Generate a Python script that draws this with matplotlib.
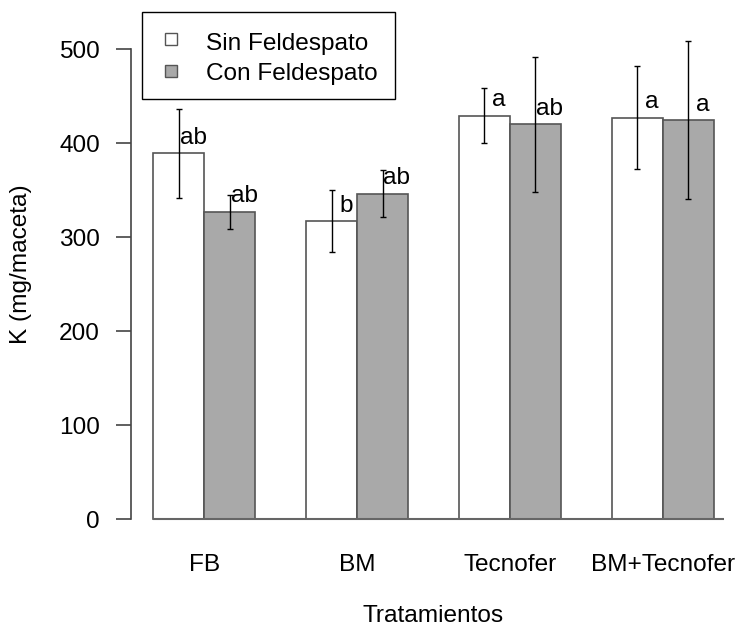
import numpy as np
import matplotlib
matplotlib.use("Agg")
import matplotlib.pyplot as plt
from matplotlib.patches import Rectangle

plt.rcParams['font.family'] = ['Liberation Sans', 'DejaVu Sans']

tratamientos = ["FB", "BM", "Tecnofer", "BM+Tecnofer"]
series = ["Sin Feldespato", "Con Feldespato"]
k_sin = [389, 317, 429, 427]
k_con = [327, 346, 420, 424]
sd_sin = [47, 33, 29, 55]
sd_con = [18, 25, 72, 84]
letras_sin = ["ab", "b", "a", "a"]
letras_con = ["ab", "ab", "ab", "a"]
yticks = [0, 100, 200, 300, 400, 500]

FS = 17.6
W, H = 743, 635
fig = plt.figure(figsize=(W / 100, H / 100), dpi=100)
ax = fig.add_axes([131 / W, (H - 537.8) / H, (736 - 131) / W, (537.8 - 10) / H])


def fx(x):
    return x / W


def fy(y):
    return 1 - y / H


# barplot layout: two bars per group, one bar width gap between groups
grupos = np.arange(len(tratamientos)) * 3
x_sin = grupos + 1.5
x_con = grupos + 2.5

edge = "#555555"
gris = "#a9a9a9"
ax.bar(x_sin, k_sin, width=1, color="white", edgecolor=edge, linewidth=1.2)
ax.bar(x_con, k_con, width=1, color=gris, edgecolor=edge, linewidth=1.2)

err_kw = dict(fmt="none", ecolor="black", elinewidth=1, capsize=2, capthick=1)
ax.errorbar(x_sin, k_sin, yerr=sd_sin, clip_on=False, **err_kw)
ax.errorbar(x_con, k_con, yerr=sd_con, clip_on=False, **err_kw)

for xs, ys, ls in [(x_sin, k_sin, letras_sin), (x_con, k_con, letras_con)]:
    for xi, yi, li in zip(xs, ys, ls):
        ax.text(xi + 0.28, yi + 10, li, ha="center", va="baseline", fontsize=FS)

# line along the base of the bars
ax.plot([1, 12.2], [0, 0], color="#666666", linewidth=1.5, solid_capstyle="butt")

ax.set_xlim(0.56, 12.44)
ax.set_ylim(-20, 541.5)

for s in ["top", "right", "bottom"]:
    ax.spines[s].set_visible(False)
ax.spines["left"].set_bounds(0, 500)
ax.spines["left"].set_color("#444444")
ax.spines["left"].set_linewidth(1.2)

ax.set_yticks(yticks)
ax.tick_params(axis="y", length=11, width=1.2, color="#444444", pad=11.5, labelsize=FS)
ax.set_xticks(grupos + 2)
ax.set_xticklabels(tratamientos)
ax.tick_params(axis="x", length=0, pad=11.5, labelsize=FS)

fig.text(fx(433.5), fy(622.5), "Tratamientos", ha="center", va="baseline", fontsize=FS)
fig.text(fx(21), fy(264), "K (mg/maceta)", ha="center", va="center",
         rotation=90, fontsize=FS)

# legend box drawn by hand
fig.patches.append(Rectangle((fx(142), fy(99)), fx(395) - fx(142), fy(12) - fy(99),
                             transform=fig.transFigure, facecolor="white",
                             edgecolor="black", linewidth=1, zorder=5))
for i, (nombre, color) in enumerate(zip(series, ["white", gris])):
    y0 = 33 + 31.5 * i
    fig.patches.append(Rectangle((fx(165), fy(y0 + 12)), fx(177) - fx(165), fy(y0) - fy(y0 + 12),
                                 transform=fig.transFigure, facecolor=color,
                                 edgecolor=edge, linewidth=1, zorder=6))
    fig.text(fx(206), fy(50 + 30 * i), nombre, ha="left", va="baseline",
             fontsize=FS, zorder=7)

fig.savefig("out.png", dpi=100)
